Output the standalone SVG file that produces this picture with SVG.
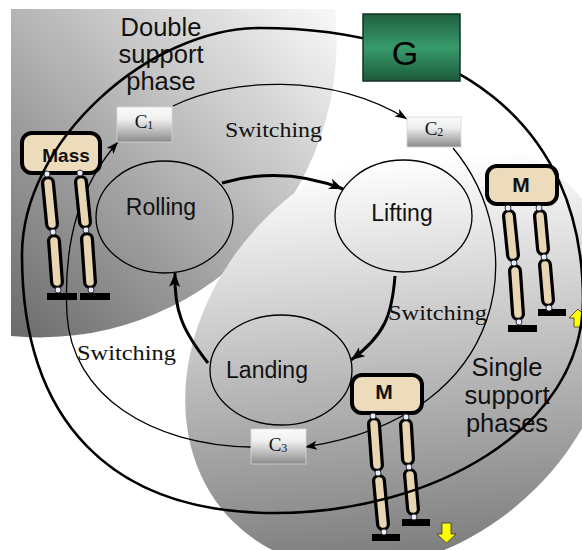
<svg xmlns="http://www.w3.org/2000/svg" width="582" height="550" viewBox="0 0 582 550">
  <defs>
    <linearGradient id="dsGrad" gradientUnits="userSpaceOnUse" x1="15" y1="335" x2="320" y2="10">
      <stop offset="0" stop-color="#6c6c6c"/>
      <stop offset="1" stop-color="#f6f6f6"/>
    </linearGradient>
    <linearGradient id="ssGrad" gradientUnits="userSpaceOnUse" x1="230" y1="545" x2="520" y2="200">
      <stop offset="0" stop-color="#6c6c6c"/>
      <stop offset="1" stop-color="#ffffff"/>
    </linearGradient>
    <linearGradient id="ctrlGrad" x1="0" y1="0" x2="0" y2="1">
      <stop offset="0" stop-color="#fafafa"/>
      <stop offset="0.35" stop-color="#efefef"/>
      <stop offset="1" stop-color="#8a8a8a"/>
    </linearGradient>
    <linearGradient id="genGrad" x1="0" y1="0" x2="0" y2="1">
      <stop offset="0" stop-color="#1f6041"/>
      <stop offset="0.5" stop-color="#379b6c"/>
      <stop offset="1" stop-color="#1d5a3c"/>
    </linearGradient>
    <marker id="arrowThin" markerUnits="userSpaceOnUse" markerWidth="14" markerHeight="10" refX="12" refY="4.5" orient="auto">
      <path d="M0,0 L12,4.5 L0,9 L3,4.5 Z" fill="#000"/>
    </marker>
    <marker id="arrowBold" markerUnits="userSpaceOnUse" markerWidth="16" markerHeight="12" refX="14" refY="5.5" orient="auto">
      <path d="M0,0 L14,5.5 L0,11 L3.5,5.5 Z" fill="#000"/>
    </marker>
    <style>
      .state { fill: none; stroke: #000; stroke-width: 1.3; }
      .state-label { font-family: "Liberation Sans", Arial, sans-serif; font-size: 23px; fill: #111; text-anchor: middle; }
      .phase-label { font-family: "Liberation Sans", Arial, sans-serif; font-size: 25.5px; fill: #111; text-anchor: middle; }
      .switch-label { font-family: "Liberation Serif", "Times New Roman", serif; font-size: 21px; fill: #111; }
      .ctrl { fill: url(#ctrlGrad); stroke: #d8d8d8; stroke-width: 0.8; }
      .ctrl-label { font-family: "Liberation Serif", "Times New Roman", serif; font-size: 19px; fill: #111; text-anchor: middle; }
      .sub { font-size: 12px; }
      .thin { fill: none; stroke: #000; stroke-width: 1.3; marker-end: url(#arrowThin); }
      .bold { fill: none; stroke: #000; stroke-width: 3; marker-end: url(#arrowBold); }
      .ring { fill: none; stroke: #000; stroke-width: 2.6; }
      .mass { fill: #ecdcbb; stroke: #000; stroke-width: 4; }
      .mass-label { font-family: "Liberation Sans", Arial, sans-serif; font-weight: bold; fill: #111; text-anchor: middle; }
      .leg-o { stroke: #000; stroke-width: 14; stroke-linecap: round; }
      .leg-i { stroke: #e8d6b2; stroke-width: 7.5; stroke-linecap: round; }
      .joint { fill: #e4ecff; stroke: #333; stroke-width: 1; }
      .foot { fill: #000; }
      .push { fill: #ffff00; stroke: #333; stroke-width: 0.8; }
    </style>
  </defs>

  <!-- phase regions -->
  <g id="phase-regions">
    <path d="M11,9 L335,9 A297,297 0 0 1 11,336 Z" fill="url(#dsGrad)"/>
    <ellipse cx="401" cy="353" rx="238" ry="191" transform="rotate(-45 401 353)" fill="url(#ssGrad)"/>
  </g>

  <!-- phase captions -->
  <g id="phase-labels">
    <text class="phase-label" x="161" y="36">Double</text>
    <text class="phase-label" x="161" y="63">support</text>
    <text class="phase-label" x="161" y="90">phase</text>
    <text class="phase-label" x="507" y="376">Single</text>
    <text class="phase-label" x="507" y="404">support</text>
    <text class="phase-label" x="507" y="432">phases</text>
  </g>

  <!-- controller switching loop and state transitions -->
  <g id="connectors">
    <path class="thin" d="M173,106 C230,78 330,72 407,119"/>
    <path class="thin" d="M453,148 C530,240 515,415 305,447"/>
    <path class="thin" d="M251,447 C150,445 72,395 67,315 C63,240 80,185 118,142"/>
    <path class="bold" d="M222,183 C260,172 300,172 343,189"/>
    <path class="bold" d="M395,276 C392,315 385,335 351,360"/>
    <path class="bold" d="M208,363 C182,330 174,310 175,273"/>
  </g>

  <!-- walking states -->
  <g id="state-rolling">
    <ellipse class="state" cx="164.5" cy="217" rx="68.5" ry="56"/>
    <text class="state-label" x="161" y="215">Rolling</text>
  </g>
  <g id="state-lifting">
    <ellipse class="state" cx="403.5" cy="216" rx="68.5" ry="56"/>
    <text class="state-label" x="402" y="221">Lifting</text>
  </g>
  <g id="state-landing">
    <ellipse class="state" cx="281" cy="370" rx="71" ry="55"/>
    <text class="state-label" x="267" y="378">Landing</text>
  </g>

  <!-- switching labels -->
  <g id="switch-labels">
    <text class="switch-label" x="225" y="137" textLength="97" lengthAdjust="spacingAndGlyphs">Switching</text>
    <text class="switch-label" x="388" y="320" textLength="99" lengthAdjust="spacingAndGlyphs">Switching</text>
    <text class="switch-label" x="77" y="360" textLength="99" lengthAdjust="spacingAndGlyphs">Switching</text>
  </g>

  <!-- controllers -->
  <g id="ctrl-c1">
    <rect class="ctrl" x="117" y="107" width="55" height="35"/>
    <text class="ctrl-label" x="144" y="128">C<tspan class="sub" dy="1">1</tspan></text>
  </g>
  <g id="ctrl-c2">
    <rect class="ctrl" x="407" y="117" width="54" height="30"/>
    <text class="ctrl-label" x="434" y="135">C<tspan class="sub" dy="1">2</tspan></text>
  </g>
  <g id="ctrl-c3">
    <rect class="ctrl" x="251" y="429" width="55" height="35"/>
    <text class="ctrl-label" x="278" y="451">C<tspan class="sub" dy="1">3</tspan></text>
  </g>

  <!-- double support walker -->
  <g id="walker-double">
    <line class="leg-o" x1="48" y1="183" x2="52" y2="224"/>
    <line class="leg-i" x1="48" y1="183" x2="52" y2="224"/>
    <line class="leg-o" x1="54" y1="241" x2="57" y2="282"/>
    <line class="leg-i" x1="54" y1="241" x2="57" y2="282"/>
    <line class="leg-o" x1="81" y1="182" x2="85" y2="222"/>
    <line class="leg-i" x1="81" y1="182" x2="85" y2="222"/>
    <line class="leg-o" x1="87" y1="239" x2="90" y2="282"/>
    <line class="leg-i" x1="87" y1="239" x2="90" y2="282"/>
    <rect class="foot" x="47" y="293" width="30" height="7"/>
    <rect class="foot" x="80" y="293" width="30" height="7"/>
    <rect class="mass" x="22" y="133" width="78" height="40" rx="10"/>
    <text class="mass-label" x="66" y="162" font-size="19">Mass</text>
    <circle class="joint" cx="47" cy="174" r="3"/>
    <circle class="joint" cx="53" cy="232" r="3"/>
    <circle class="joint" cx="58" cy="290" r="3"/>
    <circle class="joint" cx="80" cy="173" r="3"/>
    <circle class="joint" cx="86" cy="230" r="3"/>
    <circle class="joint" cx="91" cy="290" r="3"/>
  </g>

  <!-- single support walker, lifting -->
  <g id="walker-lift">
    <line class="leg-o" x1="509" y1="216" x2="513" y2="255"/>
    <line class="leg-i" x1="509" y1="216" x2="513" y2="255"/>
    <line class="leg-o" x1="515" y1="271" x2="518" y2="314"/>
    <line class="leg-i" x1="515" y1="271" x2="518" y2="314"/>
    <line class="leg-o" x1="540" y1="216" x2="543" y2="249"/>
    <line class="leg-i" x1="540" y1="216" x2="543" y2="249"/>
    <line class="leg-o" x1="545" y1="265" x2="548" y2="300"/>
    <line class="leg-i" x1="545" y1="265" x2="548" y2="300"/>
    <rect class="foot" x="508" y="325" width="29" height="7"/>
    <rect class="foot" x="538" y="309" width="28" height="7"/>
    <rect class="mass" x="487" y="166" width="70" height="38" rx="10"/>
    <text class="mass-label" x="521" y="192" font-size="21">M</text>
    <circle class="joint" cx="508" cy="208" r="3"/>
    <circle class="joint" cx="514" cy="263" r="3"/>
    <circle class="joint" cx="519" cy="322" r="3"/>
    <circle class="joint" cx="539" cy="208" r="3"/>
    <circle class="joint" cx="544" cy="257" r="3"/>
    <circle class="joint" cx="549" cy="308" r="3"/>
    <path class="push" d="M574,327 V318 H569 L578,309 L587,318 H583 V327 Z"/>
  </g>

  <!-- single support walker, landing -->
  <g id="walker-land">
    <line class="leg-o" x1="374" y1="424" x2="377" y2="465"/>
    <line class="leg-i" x1="374" y1="424" x2="377" y2="465"/>
    <line class="leg-o" x1="379" y1="481" x2="383" y2="524"/>
    <line class="leg-i" x1="379" y1="481" x2="383" y2="524"/>
    <line class="leg-o" x1="406" y1="425" x2="408" y2="459"/>
    <line class="leg-i" x1="406" y1="425" x2="408" y2="459"/>
    <line class="leg-o" x1="410" y1="475" x2="413" y2="509"/>
    <line class="leg-i" x1="410" y1="475" x2="413" y2="509"/>
    <rect class="foot" x="372" y="534" width="28" height="7"/>
    <rect class="foot" x="402" y="519" width="28" height="7"/>
    <rect class="mass" x="352" y="375" width="70" height="38" rx="10"/>
    <text class="mass-label" x="384" y="399" font-size="21">M</text>
    <circle class="joint" cx="373" cy="416" r="3"/>
    <circle class="joint" cx="378" cy="473" r="3"/>
    <circle class="joint" cx="384" cy="532" r="3"/>
    <circle class="joint" cx="406" cy="417" r="3"/>
    <circle class="joint" cx="409" cy="467" r="3"/>
    <circle class="joint" cx="414" cy="517" r="3"/>
    <path class="push" d="M442,523 H451 V534 H456 L446.5,543 L437,534 H442 Z"/>
  </g>

  <!-- gait cycle ring through the generator -->
  <g id="gait-ring">
    <path class="ring" d="M260,28 C150,28 22,140 22,255 C22,420 110,513 275,513 C430,513 583,430 583,300 C583,120 450,28 260,28 Z"/>
  </g>

  <!-- generator -->
  <g id="generator">
    <rect x="363" y="14" width="97" height="67" fill="url(#genGrad)" stroke="#123322" stroke-width="1.5"/>
    <text x="405" y="65" font-family="Liberation Sans, Arial, sans-serif" font-size="34" fill="#000" text-anchor="middle">G</text>
  </g>
</svg>
